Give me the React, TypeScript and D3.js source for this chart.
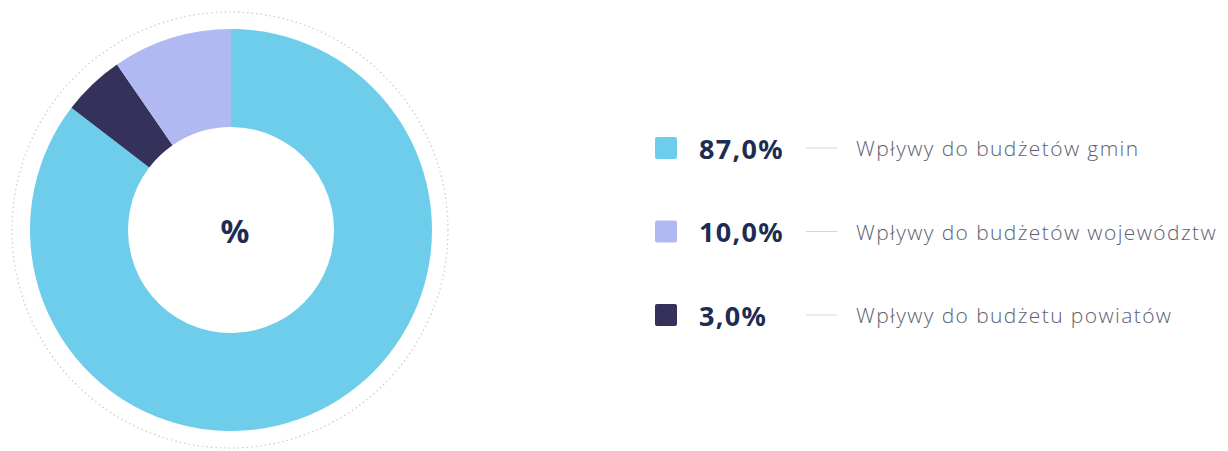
import React from "react";
import * as d3 from "d3";

const categories = ["Wpływy do budżetów gmin", "Wpływy do budżetów województw", "Wpływy do budżetu powiatów"];
const legendLabels = ["87,0%", "10,0%", "3,0%"];
// slice sizes as drawn (percent of the ring)
const sliceValues = [85.4, 9.6, 5.0];
const colors = ["#6DCDEB", "#B1B9F2", "#34325A"];
// drawing order clockwise from 12 o'clock
const drawOrder = [0, 2, 1];

const W = 1228;
const H = 451;

export default function App() {
  const cx = 231;
  const cy = 230;
  const outerR = 201;
  const innerR = 103;
  const ringData = drawOrder.map((i) => ({ i, v: sliceValues[i] }));
  const pie = d3.pie<{ i: number; v: number }>().sort(null).value((d) => d.v);
  const arcs = pie(ringData);
  const arc = d3.arc<d3.PieArcDatum<{ i: number; v: number }>>().innerRadius(innerR).outerRadius(outerR);

  const rowY = d3.scalePoint<number>().domain([0, 1, 2]).range([148, 315]);

  return (
    <svg width={W} height={H} style={{ position: "absolute", left: 0, top: 0, background: "#fff" }}>
      <circle cx={cx - 1} cy={cy} r={218} fill="none" stroke="#c9cbd0" strokeWidth={1.2} strokeDasharray="1.5 3" />
      <g transform={`translate(${cx},${cy})`}>
        {arcs.map((a) => (
          <path key={a.data.i} d={arc(a) || ""} fill={colors[a.data.i]} />
        ))}
        <text x={4} y={0} textAnchor="middle" dominantBaseline="central" fontFamily="'Noto Sans', sans-serif" fontWeight={700} fontSize={32} fill="#1E2C52">%</text>
      </g>
      {categories.map((c, i) => {
        const y = rowY(i)!;
        return (
          <g key={c}>
            <rect x={655} y={y - 11} width={22} height={22} rx={2} fill={colors[i]} />
            <text x={699} y={y} dominantBaseline="central" fontFamily="'Noto Sans', sans-serif" fontWeight={700} fontSize={27} letterSpacing={1.3} fill="#1E2C52">{legendLabels[i]}</text>
            <line x1={806} x2={837} y1={y} y2={y} stroke="#d4d6da" strokeWidth={1} />
            <text x={856} y={y} dominantBaseline="central" fontFamily="'Open Sans', sans-serif" fontWeight={300} fontSize={21} letterSpacing={1.4} fill="#5C6270">{c}</text>
          </g>
        );
      })}
    </svg>
  );
}
